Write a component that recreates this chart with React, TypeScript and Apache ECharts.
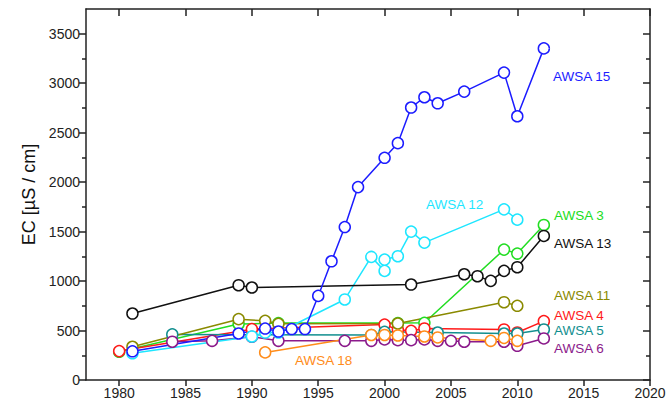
import React, { useEffect, useRef } from "react";
import * as echarts from "echarts";

const xTickLabels = [1980, 1985, 1990, 1995, 2000, 2005, 2010, 2015, 2020];
const yTickLabels = [0, 500, 1000, 1500, 2000, 2500, 3000, 3500];
const yMinorTicks = [250, 750, 1250, 1750, 2250, 2750, 3250];

const awsa3 = [[1980, 285], [1989, 565], [1992, 575], [2001, 575], [2003, 578], [2009, 1318], [2010, 1278], [2012, 1567]];
const awsa4 = [[1980, 292], [1990, 514], [2000, 560], [2001, 508], [2002, 497], [2003, 521], [2009, 511], [2010, 480], [2012, 595]];
const awsa5 = [[1984, 461], [1999, 454], [2000, 487], [2004, 480], [2009, 470], [2010, 470], [2012, 511]];
const awsa6 = [[1984, 387], [1987, 396], [1990, 437], [1992, 396], [1997, 396], [1999, 396], [2000, 410], [2001, 403], [2002, 403], [2003, 410], [2004, 396], [2005, 396], [2006, 387], [2009, 387], [2010, 346], [2012, 420]];
const awsa11 = [[1981, 336], [1989, 615], [1991, 598], [1992, 568], [2001, 571], [2009, 786], [2010, 750]];
const awsa12 = [[1981, 270], [1990, 440], [1991, 480], [1992, 480], [1997, 814], [1999, 1244], [2000, 1103], [2000, 1217], [2001, 1251], [2002, 1500], [2003, 1389], [2009, 1725], [2010, 1621]];
const awsa13 = [[1981, 672], [1989, 958], [1990, 935], [2002, 965], [2006, 1069], [2007, 1049], [2008, 1002], [2009, 1103], [2010, 1140], [2012, 1456]];
const awsa15 = [[1981, 290], [1989, 470], [1991, 520], [1992, 490], [1993, 515], [1994, 515], [1995, 850], [1996, 1200], [1997, 1546], [1998, 1950], [2000, 2246], [2001, 2394], [2002, 2754], [2003, 2858], [2004, 2797], [2006, 2915], [2009, 3107], [2010, 2666], [2012, 3352]];
const awsa18 = [[1991, 279], [1999, 455], [2000, 455], [2001, 450], [2003, 440], [2004, 430], [2008, 396], [2009, 425], [2010, 396]];

const seriesNames = ["AWSA 3", "AWSA 4", "AWSA 5", "AWSA 6", "AWSA 11", "AWSA 12", "AWSA 13", "AWSA 15", "AWSA 18"];
const seriesData = [awsa3, awsa4, awsa5, awsa6, awsa11, awsa12, awsa13, awsa15, awsa18];
const seriesColors = ["#22dd22", "#ff1a1a", "#128f8f", "#8b1a8b", "#8a8a00", "#1ee6ff", "#111111", "#1c1cff", "#ff8c1a"];

// label placement (pixel) for annotations
const labelPos: Record<string, [number, number]> = {
  "AWSA 3": [554, 215],
  "AWSA 4": [554, 315],
  "AWSA 5": [554, 330],
  "AWSA 6": [554, 348],
  "AWSA 11": [554, 295],
  "AWSA 12": [426, 204],
  "AWSA 13": [554, 243],
  "AWSA 15": [553, 76],
  "AWSA 18": [295, 360],
};

const FONT = "'Liberation Sans', Arial, sans-serif";
const AX = "#222";
const fmt = (v: number) => String(v);

export default function App() {
  const ref = useRef<HTMLDivElement>(null);
  useEffect(() => {
    if (!ref.current) return;
    const chart = echarts.init(ref.current, undefined, { renderer: "svg" });
    const xBase = {
      type: "value",
      min: 1977.5,
      max: 2020,
      splitLine: { show: false },
      axisLine: { show: true, onZero: false, lineStyle: { color: AX, width: 1.5 } },
    };
    const yBase = {
      type: "value",
      min: 0,
      max: 3750,
      splitLine: { show: false },
    };
    chart.setOption({
      animation: false,
      backgroundColor: "#fff",
      textStyle: { fontFamily: FONT },
      grid: { left: 86, top: 9, right: 20, bottom: 31, containLabel: false },
      xAxis: [
        {
          ...xBase,
          position: "bottom",
          axisTick: { show: true, length: 6, customValues: xTickLabels, lineStyle: { color: AX, width: 1.5 } },
          axisLabel: { customValues: xTickLabels, formatter: fmt, fontSize: 14, color: "#222", fontFamily: FONT, margin: 6 },
        },
        {
          ...xBase,
          position: "top",
          axisTick: { show: true, inside: true, length: 7, customValues: xTickLabels, lineStyle: { color: AX, width: 1.5 } },
          axisLabel: { show: false },
        },
      ],
      yAxis: [
        {
          ...yBase,
          position: "left",
          name: "EC [µS / cm]",
          nameLocation: "middle",
          nameGap: 47,
          nameTextStyle: { fontSize: 18, color: "#111", fontFamily: FONT },
          axisLine: { show: true, lineStyle: { color: AX, width: 1.5 } },
          axisTick: { show: true, length: 7, customValues: yTickLabels, lineStyle: { color: AX, width: 1.5 } },
          axisLabel: { customValues: yTickLabels, formatter: fmt, fontSize: 14, color: "#222", fontFamily: FONT, margin: 6 },
        },
        {
          ...yBase,
          position: "left",
          axisLine: { show: false },
          axisTick: { show: true, length: 4, customValues: yMinorTicks, lineStyle: { color: AX, width: 1.5 } },
          axisLabel: { show: false },
        },
        {
          ...yBase,
          position: "right",
          axisLine: { show: true, lineStyle: { color: AX, width: 1.5 } },
          axisTick: { show: true, inside: true, length: 7, customValues: yTickLabels, lineStyle: { color: AX, width: 1.5 } },
          axisLabel: { show: false },
        },
        {
          ...yBase,
          position: "right",
          axisLine: { show: false },
          axisTick: { show: true, inside: true, length: 4, customValues: yMinorTicks, lineStyle: { color: AX, width: 1.5 } },
          axisLabel: { show: false },
        },
      ],
      series: seriesNames.map((name, i) => ({
        name,
        type: "line",
        xAxisIndex: 0,
        yAxisIndex: 0,
        data: seriesData[i],
        symbol: "circle",
        symbolSize: 11,
        showAllSymbol: true,
        itemStyle: { color: "#fff", borderColor: seriesColors[i], borderWidth: 1.5 },
        lineStyle: { color: seriesColors[i], width: 1.5 },
      })),
      graphic: seriesNames.map((name, i) => ({
        type: "text",
        x: labelPos[name][0],
        y: labelPos[name][1],
        style: {
          text: name,
          fill: seriesColors[i],
          font: `13.5px ${FONT}`,
          textVerticalAlign: "middle",
        },
      })),
    });
    return () => chart.dispose();
  }, []);
  return <div ref={ref} style={{ position: "fixed", left: 0, top: 0, width: 670, height: 411 }} />;
}
